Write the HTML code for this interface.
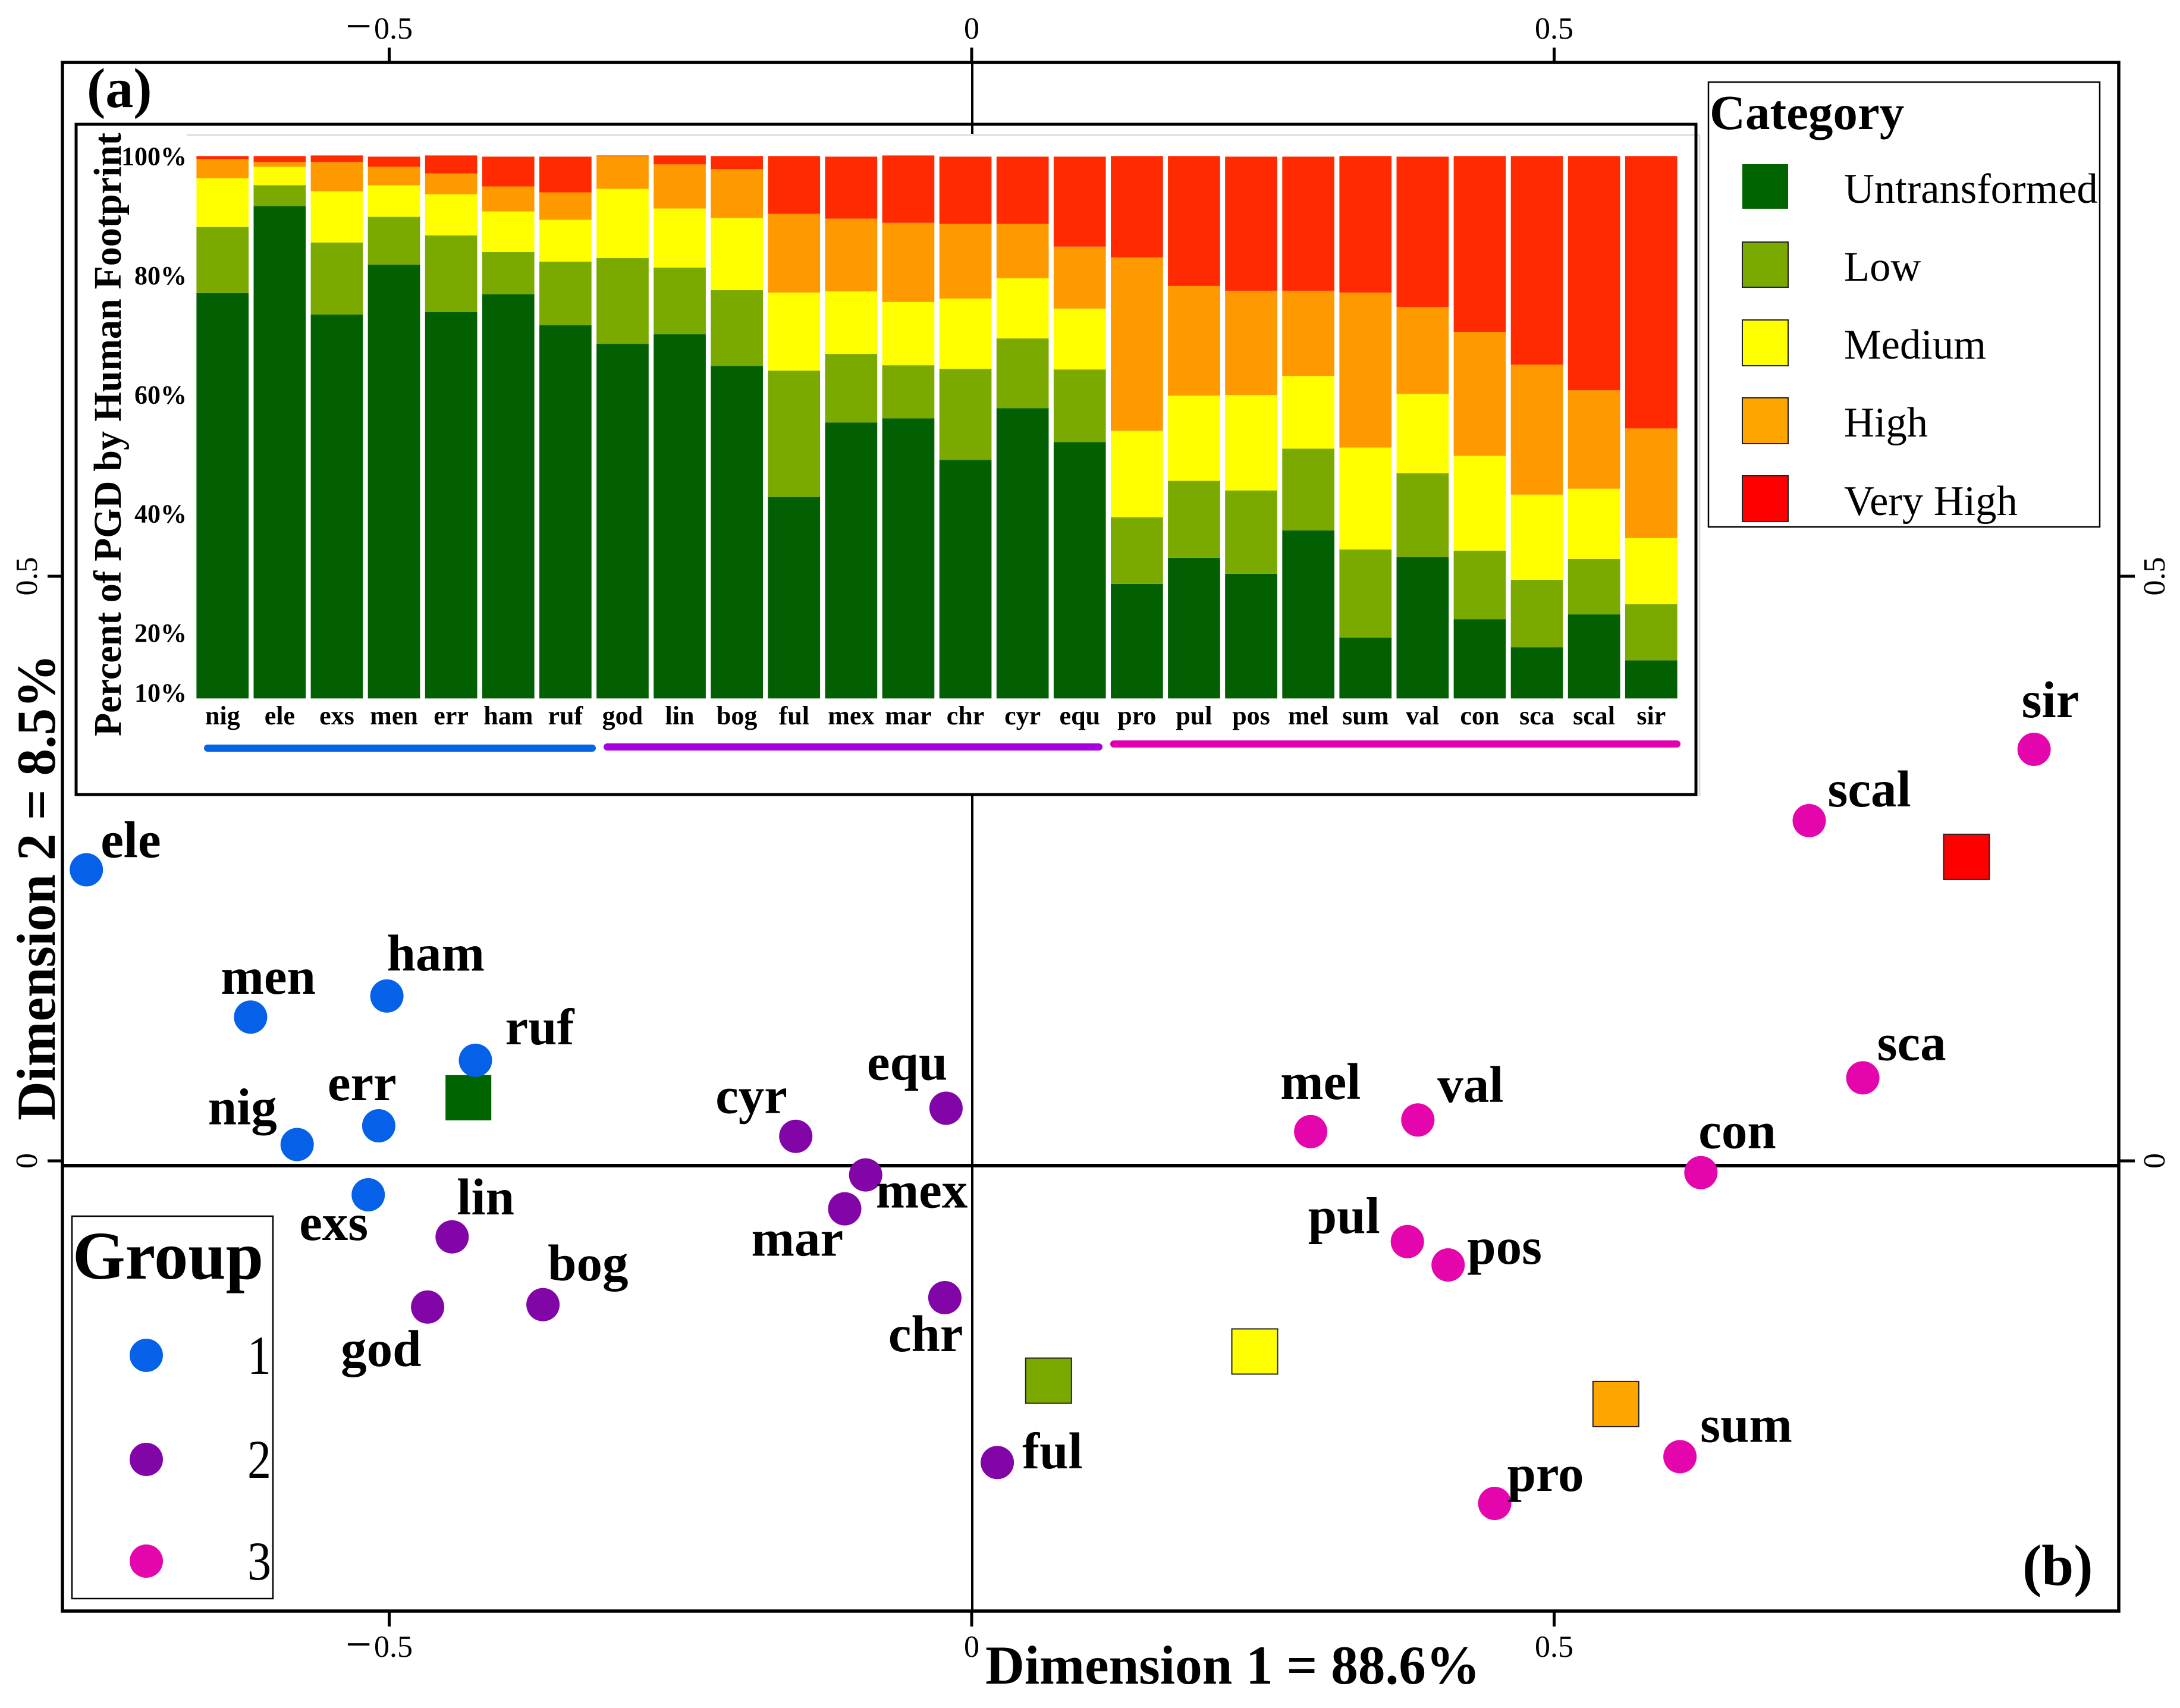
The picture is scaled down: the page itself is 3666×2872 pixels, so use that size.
<!DOCTYPE html>
<html lang="en">
<head>
<meta charset="utf-8">
<title>Human Footprint correspondence analysis</title>
<style>
html,body{margin:0;padding:0;background:#fff}
svg{display:block}
text{font-family:"Liberation Serif",serif;fill:#000}
.b{font-weight:bold}
</style>
</head>
<body>
<svg id="chart" xmlns="http://www.w3.org/2000/svg" width="3666" height="2872" viewBox="0 0 3666 2872">
<rect x="0" y="0" width="3666" height="2872" fill="#fff"/>
<g id="scatter">
<g id="zero-lines">
<line x1="1635" y1="105" x2="1635" y2="2709" stroke="#000" stroke-width="4"/>
<line x1="105" y1="1960" x2="3563" y2="1960" stroke="#000" stroke-width="6"/>
</g>
<g id="scatter-ticks"></g>
<g id="scatter-marks"></g>
<rect x="105" y="105" width="3458" height="2604" fill="none" stroke="#000" stroke-width="5.5"/>
<text class="b" x="1657" y="2831" font-size="92" textLength="832" lengthAdjust="spacingAndGlyphs">Dimension 1 = 88.6%</text>
<text class="b" transform="translate(92,1884) rotate(-90)" font-size="92" textLength="784" lengthAdjust="spacingAndGlyphs">Dimension 2 = 8.5%</text>
<text class="b" x="146" y="180" font-size="94">(a)</text>
<text class="b" x="3401" y="2665" font-size="97">(b)</text>
</g>
<g id="inset">
<rect x="128" y="209" width="2724" height="1127" fill="#fff"/>
<line x1="1635" y1="105" x2="1635" y2="225" stroke="#000" stroke-width="4"/>
<line x1="314" y1="227" x2="2858" y2="227" stroke="#ddd" stroke-width="3"/>
<line x1="2858" y1="227" x2="2858" y2="1338" stroke="#ddd" stroke-width="3"/>
<rect x="128" y="209" width="2724" height="1127" fill="none" stroke="#000" stroke-width="5"/>
<g id="bars"></g>
<g id="bar-labels"></g>
<text class="b" transform="translate(203,1238) rotate(-90)" font-size="66" textLength="1015" lengthAdjust="spacingAndGlyphs">Percent of PGD by Human Footprint</text>
<line x1="349" y1="1258" x2="996" y2="1258" stroke="#0563e6" stroke-width="12" stroke-linecap="round"/>
<line x1="1021" y1="1256" x2="1848" y2="1256" stroke="#a600e0" stroke-width="12" stroke-linecap="round"/>
<line x1="1873" y1="1251" x2="2820" y2="1251" stroke="#e000b0" stroke-width="12" stroke-linecap="round"/>
</g>
<g id="category-legend">
<rect x="2873" y="138" width="658" height="748" fill="#fff" stroke="#000" stroke-width="2.5"/>
<text class="b" x="2875" y="217" font-size="83">Category</text>
<rect x="2930" y="276" width="77" height="75" fill="#006400"/>
<rect x="2930" y="407" width="77" height="76" fill="#7aaa00" stroke="#222" stroke-width="2"/>
<rect x="2930" y="538" width="77" height="77" fill="#ffff00" stroke="#222" stroke-width="2"/>
<rect x="2930" y="669" width="77" height="77" fill="#ffa500" stroke="#222" stroke-width="2"/>
<rect x="2930" y="800" width="77" height="77" fill="#ff0000" stroke="#222" stroke-width="2"/>
<text x="3101" y="341" font-size="70.5">Untransformed</text>
<text x="3101" y="472" font-size="70.5">Low</text>
<text x="3101" y="603" font-size="70.5">Medium</text>
<text x="3101" y="734" font-size="70.5">High</text>
<text x="3101" y="866" font-size="70.5">Very High</text>
</g>
<g id="group-legend">
<rect x="121" y="2045" width="338" height="643" fill="#fff" stroke="#000" stroke-width="2.5"/>
<text class="b" x="122" y="2150" font-size="114">Group</text>
<circle cx="246" cy="2279" r="28" fill="#0561e8"/>
<circle cx="246" cy="2454" r="28" fill="#8205a8"/>
<circle cx="246" cy="2625" r="28" fill="#e505ad"/>
<text x="436" y="2310" font-size="92" text-anchor="middle" textLength="40" lengthAdjust="spacingAndGlyphs">1</text>
<text x="436" y="2485" font-size="92" text-anchor="middle" textLength="40" lengthAdjust="spacingAndGlyphs">2</text>
<text x="436" y="2656" font-size="92" text-anchor="middle" textLength="40" lengthAdjust="spacingAndGlyphs">3</text>
</g>
</svg>
<script>
// --- stacked bar data (percent) ---
const categories = ['nig','ele','exs','men','err','ham','ruf','god','lin','bog','ful','mex','mar','chr','cyr','equ','pro','pul','pos','mel','sum','val','con','sca','scal','sir'];
const untransformed = [77.0,91.6,73.4,81.8,73.8,76.8,71.6,68.5,70.1,64.8,42.8,55.3,56.0,49.0,57.7,52.0,28.2,32.6,29.9,37.2,19.2,32.7,22.3,17.6,23.1,15.4];
const low = [11.1,3.5,12.1,8.0,12.9,7.1,10.7,14.4,11.2,12.7,21.2,11.5,8.9,15.3,11.7,12.2,11.2,12.9,14.0,13.7,14.8,14.1,11.5,11.3,9.3,9.4];
const medium = [8.2,3.1,8.6,5.3,6.9,6.8,7.0,11.6,9.9,12.1,13.1,10.5,10.6,11.8,10.1,10.2,14.5,14.3,16.0,12.2,17.1,13.3,15.9,14.3,11.8,11.1];
const high = [3.2,0.8,4.9,3.1,3.5,4.2,4.6,5.5,7.4,8.2,13.2,12.2,13.3,12.5,9.1,10.4,29.1,18.4,17.5,14.3,26.0,14.6,20.8,21.8,16.5,18.4];
const veryHigh = [0.5,1.0,1.1,1.7,3.0,5.0,6.0,0.1,1.5,2.2,9.7,10.4,11.3,11.3,11.3,15.1,17.0,21.8,22.5,22.5,22.9,25.2,29.5,35.0,39.3,45.7];
const yTickValues = [100,80,60,40,20,10];
const yTickLabels = ['100%','80%','60%','40%','20%','10%'];

// --- scatter data (dimension scores) ---
const pointNames = ['ele','men','ham','ruf','err','nig','exs','lin','god','bog','cyr','equ','mex','mar','chr','ful','sir','scal','sca','mel','val','con','pul','pos','sum','pro'];
const pointDim1 = [-0.760,-0.619,-0.502,-0.426,-0.509,-0.579,-0.518,-0.446,-0.467,-0.368,-0.151,-0.022,-0.091,-0.109,-0.023,0.022,0.912,0.719,0.765,0.291,0.383,0.626,0.374,0.409,0.608,0.449];
const pointDim2 = [0.249,0.123,0.141,0.086,0.030,0.014,-0.029,-0.065,-0.125,-0.123,0.021,0.045,-0.012,-0.041,-0.117,-0.258,0.352,0.291,0.071,0.025,0.035,-0.010,-0.069,-0.089,-0.253,-0.293];
const pointGroup = [1,1,1,1,1,1,1,2,2,2,2,2,2,2,2,2,3,3,3,3,3,3,3,3,3,3];
const categoryNames = ['untransformed','low','medium','high','very-high'];
const categoryDim1 = [-0.432,0.066,0.243,0.553,0.854];
const categoryDim2 = [0.054,-0.188,-0.163,-0.208,0.260];
const xTickValues = [-0.5,0,0.5];
const xTickLabels = ['0.5','0','0.5'];
const yScatterTickValues = [0,0.5];
const yScatterTickLabels = ['0','0.5'];

// --- styling / layout ---
const NS = 'http://www.w3.org/2000/svg';
const seriesList = [untransformed, low, medium, high, veryHigh];
const seriesNames = ['untransformed','low','medium','high','very-high'];
const barColors = ['#026002','#7aaa00','#ffff00','#ff9900','#ff2a00'];
const squareColors = ['#006400','#7aaa00','#ffff00','#ffa500','#ff0000'];
const groupColors = {1:'#0561e8',2:'#8205a8',3:'#e505ad'};
const labelNudge = {ele:[24,-23],men:[-50,-41],ham:[0,-45],ruf:[50,-29],err:[-86,-45],nig:[-150,-36],exs:[-116,74],lin:[8,-40],god:[-146,97],bog:[8,-43],cyr:[-135,-41],equ:[-133,-50],mex:[17,53],mar:[-157,77],chr:[-95,88],ful:[42,8],sir:[-21,-56],scal:[31,-26],sca:[24,-32],mel:[-51,-57],val:[33,-32],con:[-4,-43],pul:[-167,-16],pos:[32,-4],sum:[34,-27],pro:[21,-23]};

function make(tag, attrs, parent, txt){
  const e = document.createElementNS(NS, tag);
  for (const k in attrs) e.setAttribute(k, attrs[k]);
  if (txt !== undefined) e.textContent = txt;
  parent.appendChild(e);
  return e;
}

// axis functions
const barBase = 9;
function barY(v){ return 262.4 + (100 - Math.max(v, barBase)) * (912 / 91); }
function barX(i){ return 330.4 + i * 96.1; }
const barW = 87.7;
function sx(v){ return 1634 + v * 1959; }
function sy(v){ return 1952 - v * 1966; }

// bars
const barsG = document.getElementById('bars');
const labelsG = document.getElementById('bar-labels');
categories.forEach(function(c, i){
  let cum = 0;
  seriesList.forEach(function(s, k){
    const y0 = barY(cum);
    cum += s[i];
    const y1 = barY(cum);
    const r = make('rect', {x:barX(i).toFixed(1), y:y1.toFixed(1), width:barW, height:Math.max(0, y0 - y1).toFixed(1), fill:barColors[k]}, barsG);
    
    
  });
  const t = make('text', {x:(barX(i) + barW / 2).toFixed(1), y:1218, 'font-size':44, 'font-weight':'bold', 'text-anchor':'middle'}, labelsG, c);
  
  
});
yTickValues.forEach(function(v, i){
  const t = make('text', {x:314, y:(barY(v) + 15).toFixed(1), 'font-size':44, 'font-weight':'bold', 'text-anchor':'end'}, labelsG, yTickLabels[i]);
  
  
});

// tick label with a long thin minus sign, as in the reference
function xTickText(v, i, y, name){
  const x = sx(v);
  const t = make('text', {x:x + (v < 0 ? -17 : 0), y:y, 'font-size':52, 'text-anchor':'middle'}, tickG);
  
  
  if (v < 0) {
    make('tspan', {'font-size':78, dy:5}, t, '\u2212');
    make('tspan', {dy:-5, dx:4}, t, xTickLabels[i]);
  } else {
    t.textContent = xTickLabels[i];
  }
}

// scatter ticks
const tickG = document.getElementById('scatter-ticks');
xTickValues.forEach(function(v, i){
  const x = sx(v);
  const top = make('line', {x1:x, y1:80, x2:x, y2:105, stroke:'#000', 'stroke-width':5}, tickG);
  
  
  const bot = make('line', {x1:x, y1:2709, x2:x, y2:2735, stroke:'#000', 'stroke-width':5}, tickG);
  
  
  xTickText(v, i, 65, 'top-tick-label-' + i);
  xTickText(v, i, 2786, 'bottom-tick-label-' + i);
});
yScatterTickValues.forEach(function(v, i){
  const y = sy(v);
  const l = make('line', {x1:80, y1:y, x2:105, y2:y, stroke:'#000', 'stroke-width':5}, tickG);
  
  
  const r = make('line', {x1:3563, y1:y, x2:3590, y2:y, stroke:'#000', 'stroke-width':5}, tickG);
  
  
  const a = make('text', {transform:'translate(62,' + y + ') rotate(-90)', 'font-size':52, 'text-anchor':'middle'}, tickG, yScatterTickLabels[i]);
  
  
  const b = make('text', {transform:'translate(3640,' + y + ') rotate(-90)', 'font-size':52, 'text-anchor':'middle'}, tickG, yScatterTickLabels[i]);
  
  
});

// scatter marks
const marks = document.getElementById('scatter-marks');
categoryNames.forEach(function(n, i){
  const s = make('rect', {x:(sx(categoryDim1[i]) - 38.5).toFixed(1), y:(sy(categoryDim2[i]) - 38).toFixed(1), width:77, height:76, fill:squareColors[i], stroke: i === 0 ? 'none' : '#222', 'stroke-width':2}, marks);
  
  
});
pointNames.forEach(function(n, i){
  const px = sx(pointDim1[i]);
  const py = sy(pointDim2[i]);
  const c = make('circle', {cx:px.toFixed(1), cy:py.toFixed(1), r:28, fill:groupColors[pointGroup[i]]}, marks);
  
  
  const d = labelNudge[n];
  const t = make('text', {x:(px + d[0]).toFixed(1), y:(py + d[1] + 2).toFixed(1), 'font-size':87, 'font-weight':'bold'}, marks, n);
  
  
});
</script>
</body>
</html>
